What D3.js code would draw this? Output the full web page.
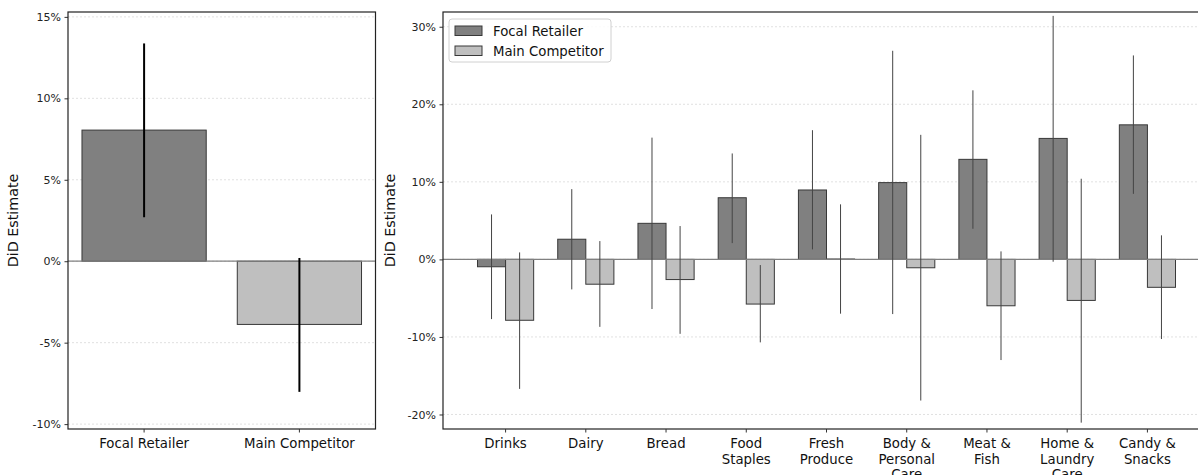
<!DOCTYPE html>
<html>
<head>
<meta charset="utf-8">
<script src="https://cdn.jsdelivr.net/npm/d3@7"></script>
<style>
    body { margin: 0; background: #fff; }
    svg { display: block; font-family: "DejaVu Sans", sans-serif; }
</style>
</head>
<body>
<svg id="chart" width="1198" height="475"></svg>
<script>
// ======== DATA ========
const pooled = ['Focal Retailer', 'Main Competitor'];
const pooledEst = [8.05, -3.88];
const pooledLo = [2.7, -8.02];
const pooledHi = [13.37, 0.2];

const categories = ['Drinks', 'Dairy', 'Bread', 'Food\nStaples', 'Fresh\nProduce',
    'Body &\nPersonal\nCare', 'Meat &\nFish', 'Home &\nLaundry\nCare', 'Candy &\nSnacks'];
const focalEst = [-0.95, 2.6, 4.65, 7.95, 8.95, 9.9, 12.9, 15.6, 17.35];
const focalLo = [-7.7, -3.87, -6.4, 2.1, 1.29, -7.05, 3.95, -0.3, 8.45];
const focalHi = [5.8, 9.06, 15.7, 13.66, 16.66, 26.9, 21.8, 31.4, 26.3];
const compEst = [-7.85, -3.2, -2.6, -5.76, 0.05, -1.08, -5.98, -5.29, -3.6];
const compLo = [-16.7, -8.7, -9.6, -10.7, -7.0, -18.2, -12.98, -21.05, -10.27];
const compHi = [0.9, 2.36, 4.3, -0.73, 7.1, 16.06, 1.03, 10.4, 3.1];

const leftTicks = [-10, -5, 0, 5, 10, 15];
const rightTicks = [-20, -10, 0, 10, 20, 30];
const seriesNames = ['Focal Retailer', 'Main Competitor'];

const FOCAL = '#808080', COMP = '#bfbfbf', EDGE = '#383838';
const TOP = 12, BOTTOM = 429;

const svg = d3.select('#chart');

function grid(g, x0, x1, y, ticks) {
    g.append('g').selectAll('line').data(ticks).join('line')
        .attr('x1', x0).attr('x2', x1)
        .attr('y1', d => y(d)).attr('y2', d => y(d))
        .attr('stroke', '#d9d9d9').attr('stroke-width', 0.8)
        .attr('stroke-dasharray', '2,2');
}

function zeroLine(g, x0, x1, y) {
    g.append('line')
        .attr('x1', x0).attr('x2', x1).attr('y1', y(0)).attr('y2', y(0))
        .attr('stroke', '#808080').attr('stroke-width', 1.2);
}

function axes(g, x0, x1, y, ticks, labelX) {
    const yAxis = d3.axisLeft(y).tickValues(ticks).tickSize(3.5).tickPadding(3.5)
        .tickFormat(d => d + '%');
    const ag = g.append('g').attr('transform', `translate(${x0},0)`).call(yAxis)
        .attr('font-family', '"DejaVu Sans", sans-serif')
        .attr('font-size', 11);
    ag.select('.domain').remove();
    ag.selectAll('text').attr('fill', '#222');
    ag.selectAll('line').attr('stroke', '#333');

    g.append('rect')
        .attr('x', x0).attr('y', TOP).attr('width', x1 - x0).attr('height', BOTTOM - TOP)
        .attr('fill', 'none').attr('stroke', '#222').attr('stroke-width', 1.2);

    g.append('text')
        .attr('transform', `translate(${labelX},${(TOP + BOTTOM) / 2}) rotate(-90)`)
        .attr('text-anchor', 'middle')
        .attr('font-size', 14.3).attr('fill', '#111')
        .text('DiD Estimate');
}

function xLabels(g, x, labels) {
    g.append('g').selectAll('line').data(labels).join('line')
        .attr('x1', (d, i) => x(i)).attr('x2', (d, i) => x(i))
        .attr('y1', BOTTOM).attr('y2', BOTTOM + 3.5)
        .attr('stroke', '#333');
    const t = g.append('g').selectAll('text').data(labels).join('text')
        .attr('x', (d, i) => x(i))
        .attr('y', BOTTOM + 19)
        .attr('text-anchor', 'middle')
        .attr('font-size', 13.3).attr('fill', '#111');
    t.each(function (d, i) {
        d.split('\n').forEach((line, k) => {
            d3.select(this).append('tspan')
                .attr('x', x(i)).attr('dy', k === 0 ? 0 : 15.5)
                .text(line);
        });
    });
}

function errBars(g, xs, lo, hi, y, color, width) {
    g.append('g').selectAll('line').data(xs).join('line')
        .attr('x1', d => d).attr('x2', d => d)
        .attr('y1', (d, i) => y(lo[i])).attr('y2', (d, i) => y(hi[i]))
        .attr('stroke', color).attr('stroke-width', width);
}

// ----- LEFT PANEL -----
const L0 = 68, L1 = 375.5;
const xL = d3.scaleLinear().domain([-0.49, 1.49]).range([L0, L1]);
const yL = d3.scaleLinear().domain([-10.3, 15.3]).range([BOTTOM, TOP]);
const gL = svg.append('g');
grid(gL, L0, L1, yL, leftTicks);

const bwL = xL(0.8) - xL(0);
gL.append('g').selectAll('rect').data(pooledEst).join('rect')
    .attr('x', (d, i) => xL(i) - bwL / 2)
    .attr('width', bwL)
    .attr('y', d => yL(Math.max(0, d)))
    .attr('height', d => Math.abs(yL(d) - yL(0)))
    .attr('fill', (d, i) => i === 0 ? FOCAL : COMP)
    .attr('stroke', EDGE).attr('stroke-width', 1);
zeroLine(gL, L0, L1, yL);
errBars(gL, pooled.map((d, i) => xL(i)), pooledLo, pooledHi, yL, '#000', 2);
axes(gL, L0, L1, yL, leftTicks, 18);
xLabels(gL, xL, pooled);

// ----- RIGHT PANEL -----
const R0 = 443, R1 = 1210;
const xR = d3.scaleLinear().domain([-0.78, 8.78]).range([R0, R1]);
const yR = d3.scaleLinear().domain([-21.87, 31.9]).range([BOTTOM, TOP]);
const gR = svg.append('g');
grid(gR, R0, R1, yR, rightTicks);

const W = 0.35;
const bw = xR(W) - xR(0);
const series = [
    { est: focalEst, lo: focalLo, hi: focalHi, off: -W / 2, fill: FOCAL },
    { est: compEst, lo: compLo, hi: compHi, off: W / 2, fill: COMP }
];
series.forEach(s => {
    gR.append('g').selectAll('rect').data(s.est).join('rect')
        .attr('x', (d, i) => xR(i + s.off) - bw / 2)
        .attr('width', bw)
        .attr('y', d => yR(Math.max(0, d)))
        .attr('height', d => Math.abs(yR(d) - yR(0)))
        .attr('fill', s.fill)
        .attr('stroke', EDGE).attr('stroke-width', 1);
});
zeroLine(gR, R0, R1, yR);
series.forEach(s => {
    errBars(gR, s.est.map((d, i) => xR(i + s.off)), s.lo, s.hi, yR, '#444', 1);
});
axes(gR, R0, R1, yR, rightTicks, 395);
xLabels(gR, xR, categories);

// legend
const lg = gR.append('g').attr('transform', 'translate(449,19)');
lg.append('rect')
    .attr('width', 162).attr('height', 43).attr('rx', 3)
    .attr('fill', '#fff').attr('fill-opacity', 0.85)
    .attr('stroke', '#d0d0d0');
seriesNames.forEach((name, i) => {
    lg.append('rect')
        .attr('x', 6).attr('y', 7 + i * 20).attr('width', 27).attr('height', 9.5)
        .attr('fill', i === 0 ? FOCAL : COMP)
        .attr('stroke', EDGE).attr('stroke-width', 1);
    lg.append('text')
        .attr('x', 44).attr('y', 16.5 + i * 20)
        .attr('font-size', 13.3).attr('fill', '#111')
        .text(name);
});
</script>
</body>
</html>
